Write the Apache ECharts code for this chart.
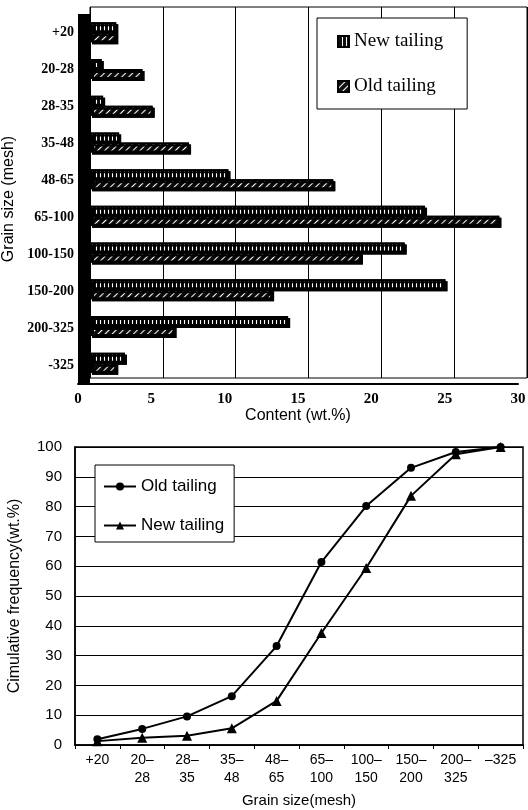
<!DOCTYPE html>
<html>
<head>
<meta charset="utf-8">
<script src="https://cdn.jsdelivr.net/npm/echarts@6/dist/echarts.min.js"></script>
<style>
html,body{margin:0;padding:0;background:#fff;}
#chart{width:528px;height:810px;}
</style>
</head>
<body>
<div id="chart"></div>
<script>
// ---- Data ----
const categories = ['+20', '20-28', '28-35', '35-48', '48-65', '65-100', '100-150', '150-200', '200-325', '-325'];
const newTailing = [1.8, 0.8, 0.9, 2.0, 9.5, 23.0, 21.6, 24.4, 13.6, 2.4];
const oldTailing = [1.8, 3.6, 4.3, 6.8, 16.7, 28.1, 18.6, 12.5, 5.8, 1.8];
const curveTickLabels = ['+20', '20–\n28', '28–\n35', '35–\n48', '48–\n65', '65–\n100', '100–\n150', '150–\n200', '200–\n325', '–325'];
const cumOld = [1.9, 5.4, 9.6, 16.4, 33.2, 61.4, 80.2, 93.0, 98.3, 100];
const cumNew = [1.3, 2.4, 3.1, 5.6, 14.8, 37.6, 59.4, 83.6, 97.6, 100];

const serif = 'Liberation Serif';
const sans = 'Liberation Sans';

const chart = echarts.init(document.getElementById('chart'), null, {renderer: 'canvas'});

const barBase = {
  type: 'bar', xAxisIndex: 1, yAxisIndex: 1, barWidth: 10, barGap: '0%'
};

const option = {
  animation: false,
  backgroundColor: '#fff',
  grid: [
    {left: 90, top: 7, width: 437, height: 371, show: true, borderColor: '#000', borderWidth: 1, backgroundColor: 'transparent', containLabel: false, outerBoundsMode: 'none'},
    {left: 90, top: 14, width: 437, height: 367, containLabel: false, outerBoundsMode: 'none'},
    {left: 78, top: 14, width: 440, height: 370, containLabel: false, outerBoundsMode: 'none'},
    {left: 75, top: 447, right: 5, bottom: 65, show: true, borderColor: '#000', borderWidth: 1.5, containLabel: false, outerBoundsMode: 'none'}
  ],
  xAxis: [
    {gridIndex: 0, type: 'value', min: 0, max: 30, interval: 5,
     axisLabel: {show: false}, axisLine: {show: false}, axisTick: {show: false},
     splitLine: {show: true, lineStyle: {color: '#000', width: 1}}},
    {gridIndex: 1, type: 'value', min: 0, max: 30, interval: 5, show: false, splitLine: {show: false}},
    {gridIndex: 2, type: 'value', min: 0, max: 30, interval: 5,
     axisLine: {show: true, onZero: false, lineStyle: {color: '#000', width: 2}},
     axisTick: {show: false}, splitLine: {show: false},
     axisLabel: {color: '#000', fontFamily: serif, fontWeight: 'bold', fontSize: 15, margin: 8},
     name: 'Content (wt.%)', nameLocation: 'middle', nameGap: 23,
     nameTextStyle: {color: '#000', fontFamily: sans, fontSize: 16}},
    {gridIndex: 3, type: 'category', data: curveTickLabels, boundaryGap: true,
     axisLine: {lineStyle: {color: '#000', width: 1.5}},
     axisTick: {show: true, length: 4, lineStyle: {color: '#000'}},
     axisLabel: {color: '#000', fontFamily: sans, fontSize: 14, lineHeight: 18, margin: 6, interval: 0},
     name: 'Grain size(mesh)', nameLocation: 'middle', nameGap: 48,
     nameTextStyle: {color: '#000', fontFamily: sans, fontSize: 15}}
  ],
  yAxis: [
    {gridIndex: 0, type: 'category', data: categories, inverse: true, show: false},
    {gridIndex: 1, type: 'category', data: categories, inverse: true, show: false},
    {gridIndex: 2, type: 'category', data: categories, inverse: true, offset: -6,
     axisLine: {show: true, lineStyle: {color: '#000', width: 12, cap: 'butt'}},
     axisTick: {show: false}, splitLine: {show: false},
     axisLabel: {color: '#000', fontFamily: serif, fontWeight: 'bold', fontSize: 14, margin: 10},
     name: 'Grain size (mesh)', nameLocation: 'middle', nameGap: 64,
     nameTextStyle: {color: '#000', fontFamily: sans, fontSize: 16}},
    {gridIndex: 3, type: 'value', min: 0, max: 100, interval: 10,
     axisLine: {show: true, lineStyle: {color: '#000', width: 1.5}},
     axisTick: {show: false},
     splitLine: {show: true, lineStyle: {color: '#000', width: 1}},
     axisLabel: {color: '#000', fontFamily: sans, fontSize: 15, margin: 13},
     name: 'Cimulative frequency(wt.%)', nameLocation: 'middle', nameGap: 52,
     nameTextStyle: {color: '#000', fontFamily: sans, fontSize: 16}}
  ],
  legend: [
    {data: ['New tailing', 'Old tailing'], orient: 'vertical', left: 317, top: 18,
     padding: [14, 24, 13, 20], itemGap: 26, itemWidth: 11, itemHeight: 11, icon: 'rect',
     borderColor: '#000', borderWidth: 1, backgroundColor: '#fff',
     textStyle: {color: '#000', fontFamily: serif, fontSize: 19}},
    {data: ['Old tailing curve', 'New tailing curve'], orient: 'vertical', left: 95, top: 465,
     padding: [13, 10, 8, 8], itemGap: 22, itemWidth: 32, itemHeight: 10,
     borderColor: '#000', borderWidth: 1, backgroundColor: '#fff',
     formatter: function (n) { return n.replace(' curve', ''); },
     textStyle: {color: '#000', fontFamily: sans, fontSize: 17}}
  ],
  series: [
    Object.assign({}, barBase, {
      name: 'New tailing', data: newTailing,
      itemStyle: {color: '#111', borderColor: '#000', borderWidth: 2,
        shadowColor: '#000', shadowOffsetX: 2, shadowOffsetY: 2, shadowBlur: 0,
        decal: {symbol: 'rect', symbolSize: 1, color: '#fff', dashArrayX: [1, 3], dashArrayY: [4, 0], rotation: 0}}
    }),
    Object.assign({}, barBase, {
      name: 'Old tailing', data: oldTailing,
      itemStyle: {color: '#111', borderColor: '#000', borderWidth: 2,
        shadowColor: '#000', shadowOffsetX: 2, shadowOffsetY: 2, shadowBlur: 0,
        decal: {symbol: 'rect', symbolSize: 1, color: '#fff', dashArrayX: [1, 4], dashArrayY: [4, 0], rotation: Math.PI / 4}}
    }),
    {type: 'line', name: 'Old tailing curve', xAxisIndex: 3, yAxisIndex: 3, data: cumOld,
     symbol: 'circle', symbolSize: 8, smooth: false,
     itemStyle: {color: '#000'}, lineStyle: {color: '#000', width: 2}},
    {type: 'line', name: 'New tailing curve', xAxisIndex: 3, yAxisIndex: 3, data: cumNew,
     symbol: 'triangle', symbolSize: 10,
     itemStyle: {color: '#000'}, lineStyle: {color: '#000', width: 2}}
  ]
};
chart.setOption(option);
</script>
</body>
</html>
